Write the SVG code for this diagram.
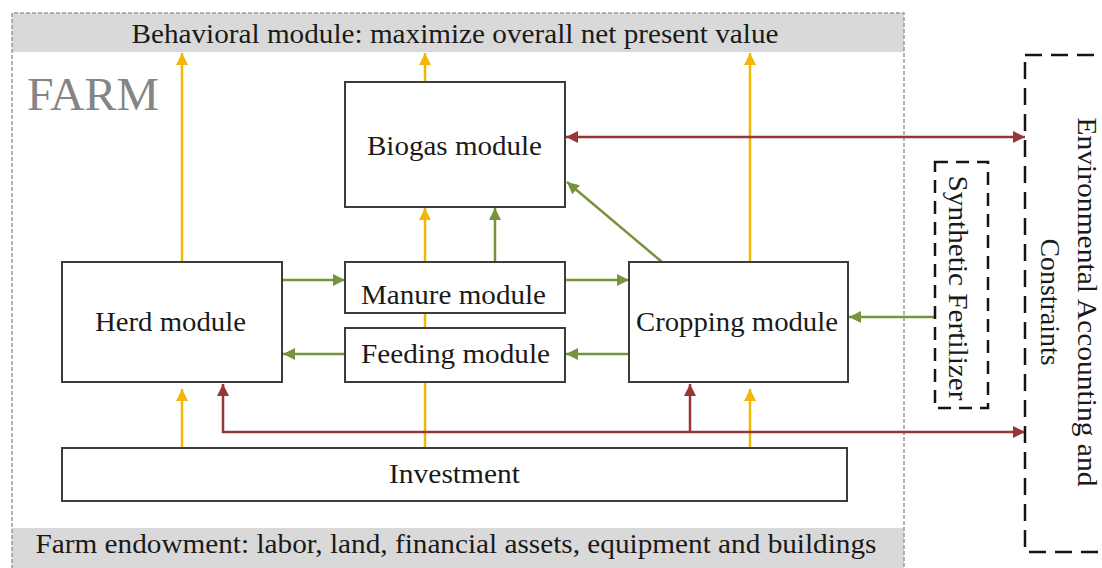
<svg xmlns="http://www.w3.org/2000/svg" width="1102" height="568" viewBox="0 0 1102 568">
<style>
.box{fill:#fff;stroke:#3c3c3c;stroke-width:2}
.band{fill:#d9d9d9}
.y{stroke:#f2b705;stroke-width:2.5;fill:none}
.g{stroke:#77933c;stroke-width:2.5;fill:none}
.r{stroke:#953735;stroke-width:2.5;fill:none}
.dash{fill:none;stroke:#151515;stroke-width:2.5}
</style>
<defs>
<marker id="ay" viewBox="0 0 12 12" refX="12" refY="6" markerWidth="12" markerHeight="12" markerUnits="userSpaceOnUse" orient="auto-start-reverse"><path d="M0,0 L12,6 L0,12 z" fill="#f2b705"/></marker>
<marker id="ag" viewBox="0 0 12 12" refX="12" refY="6" markerWidth="12" markerHeight="12" markerUnits="userSpaceOnUse" orient="auto-start-reverse"><path d="M0,0 L12,6 L0,12 z" fill="#77933c"/></marker>
<marker id="ar" viewBox="0 0 12 12" refX="12" refY="6" markerWidth="12" markerHeight="12" markerUnits="userSpaceOnUse" orient="auto-start-reverse"><path d="M0,0 L12,6 L0,12 z" fill="#953735"/></marker>
</defs>
<rect width="1102" height="568" fill="#fff"/>
<g id="farm">
<rect class="band" x="12" y="13" width="892" height="39"/>
<rect class="band" x="12" y="528" width="892" height="45"/>
<path d="M12,575 V13 H904 V575" fill="none" stroke="#9a9a9a" stroke-width="1.5" stroke-dasharray="4 2"/>
<text font-family="Liberation Serif, serif" font-size="27" fill="#1a1a1a" x="455" y="43" text-anchor="middle" textLength="647" lengthAdjust="spacingAndGlyphs">Behavioral module: maximize overall net present value</text>
<text font-family="Liberation Serif, serif" x="27" y="110" font-size="46" fill="#858585" textLength="132" lengthAdjust="spacingAndGlyphs">FARM</text>
<text font-family="Liberation Serif, serif" font-size="27" fill="#1a1a1a" x="456" y="553" text-anchor="middle" textLength="841" lengthAdjust="spacingAndGlyphs">Farm endowment: labor, land, financial assets, equipment and buildings</text>
</g>
<g id="connectors">
<line class="y" x1="182" y1="262" x2="182" y2="53" marker-end="url(#ay)"/>
<line class="y" x1="425" y1="82" x2="425" y2="53" marker-end="url(#ay)"/>
<line class="y" x1="750" y1="262" x2="750" y2="53" marker-end="url(#ay)"/>
<line class="y" x1="182" y1="448" x2="182" y2="389" marker-end="url(#ay)"/>
<line class="y" x1="425" y1="448" x2="425" y2="208" marker-end="url(#ay)"/>
<line class="y" x1="750" y1="448" x2="750" y2="389" marker-end="url(#ay)"/>
<line class="r" x1="566" y1="137" x2="1025" y2="137" marker-start="url(#ar)" marker-end="url(#ar)"/>
<polyline class="r" points="223,384 223,432 1025,432" marker-start="url(#ar)" marker-end="url(#ar)"/>
<line class="r" x1="690" y1="432" x2="690" y2="384" marker-end="url(#ar)"/>
<line class="g" x1="283" y1="280" x2="345" y2="280" marker-end="url(#ag)"/>
<line class="g" x1="566" y1="280" x2="629" y2="280" marker-end="url(#ag)"/>
<line class="g" x1="629" y1="354" x2="566" y2="354" marker-end="url(#ag)"/>
<line class="g" x1="345" y1="354" x2="283" y2="354" marker-end="url(#ag)"/>
<line class="g" x1="495" y1="262" x2="495" y2="208" marker-end="url(#ag)"/>
<line class="g" x1="662" y1="262" x2="567" y2="182" marker-end="url(#ag)"/>
<line class="g" x1="935" y1="317" x2="849" y2="317" marker-end="url(#ag)"/>
</g>
<g id="biogas">
<rect class="box" x="345" y="82" width="220" height="125"/>
<text font-family="Liberation Serif, serif" font-size="27" fill="#1a1a1a" x="367" y="155" textLength="175" lengthAdjust="spacingAndGlyphs">Biogas module</text>
</g>
<g id="herd">
<rect class="box" x="62" y="262" width="220" height="120"/>
<text font-family="Liberation Serif, serif" font-size="27" fill="#1a1a1a" x="95" y="331" textLength="151" lengthAdjust="spacingAndGlyphs">Herd module</text>
</g>
<g id="manure">
<rect class="box" x="345" y="262" width="220" height="51"/>
<text font-family="Liberation Serif, serif" font-size="27" fill="#1a1a1a" x="361" y="304" textLength="185" lengthAdjust="spacingAndGlyphs">Manure module</text>
</g>
<g id="feeding">
<rect class="box" x="345" y="328" width="220" height="54"/>
<text font-family="Liberation Serif, serif" font-size="27" fill="#1a1a1a" x="361" y="363" textLength="189" lengthAdjust="spacingAndGlyphs">Feeding module</text>
</g>
<g id="cropping">
<rect class="box" x="629" y="262" width="219" height="120"/>
<text font-family="Liberation Serif, serif" font-size="27" fill="#1a1a1a" x="636" y="331" textLength="202" lengthAdjust="spacingAndGlyphs">Cropping module</text>
</g>
<g id="investment">
<rect class="box" x="62" y="448" width="785" height="53"/>
<text font-family="Liberation Serif, serif" font-size="27" fill="#1a1a1a" x="389" y="483" textLength="131" lengthAdjust="spacingAndGlyphs">Investment</text>
</g>
<g id="synthetic-fertilizer">
<rect class="dash" x="935" y="162" width="53" height="246" stroke-dasharray="13 8"/>
<text font-family="Liberation Serif, serif" font-size="27" fill="#1a1a1a" transform="translate(958,288) rotate(90)" x="0" y="9" text-anchor="middle" textLength="225" lengthAdjust="spacingAndGlyphs">Synthetic Fertilizer</text>
</g>
<g id="environmental">
<rect class="dash" x="1025" y="55" width="100" height="497" stroke-dasharray="17 9"/>
<text font-family="Liberation Serif, serif" font-size="27" fill="#1a1a1a" transform="translate(1087,302) rotate(90)" x="0" y="9" text-anchor="middle" textLength="369" lengthAdjust="spacingAndGlyphs">Environmental Accounting and</text>
<text font-family="Liberation Serif, serif" font-size="27" fill="#1a1a1a" transform="translate(1050,302) rotate(90)" x="0" y="9" text-anchor="middle" textLength="127" lengthAdjust="spacingAndGlyphs">Constraints</text>
</g>
</svg>
